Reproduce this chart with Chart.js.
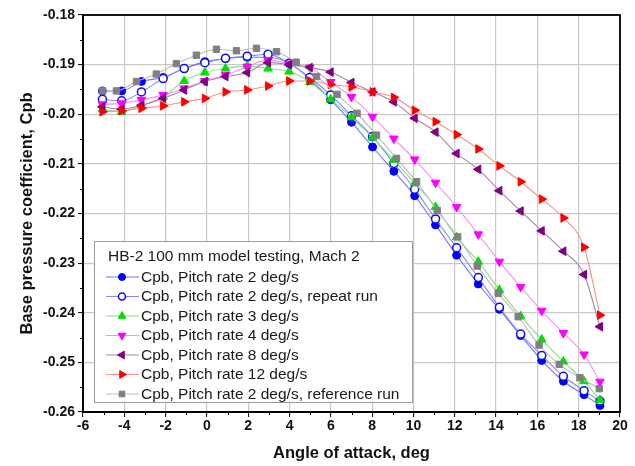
<!DOCTYPE html>
<html>
<head>
<meta charset="utf-8">
<script src="https://cdn.jsdelivr.net/npm/chart.js@4.4.1/dist/chart.umd.min.js"></script>
<style>
  html, body { margin: 0; padding: 0; background: #fff; }
  #wrap { width: 635px; height: 466px; position: relative; }
</style>
</head>
<body>
<div id="wrap"><canvas id="c" width="635" height="466"></canvas></div>
<script>
// Angle of attack (deg) shared by the pitch-rate runs
const angles = [-5.06, -4.13, -3.17, -2.12, -1.10, -0.10, 0.90, 1.95, 2.96, 3.98, 4.98, 5.99, 7.00, 8.02, 9.05, 10.06, 11.07, 12.09, 13.14, 14.16, 15.19, 16.21, 17.26, 18.26, 19.03];
// Angle of attack (deg) for the reference run
const refAngles = [-5.06, -4.38, -3.41, -2.45, -1.48, -0.51, 0.46, 1.43, 2.40, 3.37, 4.32, 5.31, 6.30, 7.27, 8.21, 9.18, 10.15, 11.15, 12.14, 13.09, 14.10, 15.07, 16.08, 17.06, 18.06, 19.00];

const cpbRate2 = [-0.1953, -0.1953, -0.1934, -0.1926, -0.1908, -0.1894, -0.1888, -0.1885, -0.1885, -0.1897, -0.1929, -0.1971, -0.2016, -0.2066, -0.2115, -0.2164, -0.2223, -0.2284, -0.2342, -0.2393, -0.2446, -0.2496, -0.2538, -0.2565, -0.2587];
const cpbRate2Repeat = [-0.1970, -0.1973, -0.1955, -0.1928, -0.1908, -0.1896, -0.1887, -0.1883, -0.1879, -0.1897, -0.1926, -0.1961, -0.2003, -0.2045, -0.2099, -0.2151, -0.2211, -0.2269, -0.2329, -0.2389, -0.2443, -0.2486, -0.2528, -0.2557, -0.2578];
const cpbRate3 = [-0.1990, -0.1995, -0.1982, -0.1965, -0.1933, -0.1916, -0.1908, -0.1903, -0.1908, -0.1914, -0.1935, -0.1970, -0.2006, -0.2047, -0.2092, -0.2139, -0.2187, -0.2248, -0.2297, -0.2354, -0.2407, -0.2454, -0.2498, -0.2538, -0.2576];
const cpbRate4 = [-0.1980, -0.1978, -0.1971, -0.1961, -0.1948, -0.1933, -0.1921, -0.1904, -0.1891, -0.1898, -0.1906, -0.1935, -0.1965, -0.2005, -0.2049, -0.2091, -0.2138, -0.2187, -0.2242, -0.2297, -0.2348, -0.2396, -0.2441, -0.2484, -0.2539];
const cpbRate8 = [-0.1985, -0.1990, -0.1982, -0.1968, -0.1951, -0.1934, -0.1924, -0.1916, -0.1896, -0.1900, -0.1906, -0.1915, -0.1936, -0.1955, -0.1975, -0.2008, -0.2036, -0.2079, -0.2111, -0.2154, -0.2195, -0.2235, -0.2276, -0.2323, -0.2428];
const cpbRate12 = [-0.1995, -0.1993, -0.1988, -0.1983, -0.1975, -0.1968, -0.1955, -0.1951, -0.1943, -0.1933, -0.1933, -0.1940, -0.1945, -0.1955, -0.1966, -0.1992, -0.2015, -0.2041, -0.2070, -0.2104, -0.2136, -0.2171, -0.2209, -0.2268, -0.2405];
const cpbRate2Ref = [-0.1953, -0.1953, -0.1934, -0.1919, -0.1898, -0.1881, -0.1869, -0.1872, -0.1867, -0.1874, -0.1895, -0.1924, -0.1960, -0.1998, -0.2042, -0.2089, -0.2136, -0.2194, -0.2247, -0.2306, -0.2361, -0.2408, -0.2465, -0.2504, -0.2531, -0.2553];

const legendTitle = "HB-2 100 mm model testing, Mach 2";
const seriesLabels = [
  "Cpb, Pitch rate 2 deg/s",
  "Cpb, Pitch rate 2 deg/s, repeat run",
  "Cpb, Pitch rate 3 deg/s",
  "Cpb, Pitch rate 4 deg/s",
  "Cpb, Pitch rate 8 deg/s",
  "Cpb, Pitch rate 12 deg/s",
  "Cpb, Pitch rate 2 deg/s, reference run"
];
const xTitle = "Angle of attack, deg";
const yTitle = "Base pressure coefficient, Cpb";

function pts(xs, ys) { return ys.map((v, i) => ({ x: xs[i], y: v })); }

const styles = [
  { line: '#7676ff', fill: '#0000ff', border: '#0000ff', style: 'circle', rot: 0, r: 4 },
  { line: '#8484ff', fill: '#ffffff', border: '#1010e0', style: 'circle', rot: 0, r: 4 },
  { line: '#86de86', fill: '#00e000', border: '#00e000', style: 'triangle', rot: 0, r: 5 },
  { line: '#f590f5', fill: '#ff00ff', border: '#ff00ff', style: 'triangle', rot: 180, r: 5 },
  { line: '#ad82ad', fill: '#800080', border: '#800080', style: 'triangle', rot: 270, r: 5 },
  { line: '#f59282', fill: '#ff0000', border: '#ff0000', style: 'triangle', rot: 90, r: 5 },
  { line: '#bbbbbb', fill: '#808080', border: '#808080', style: 'rect', rot: 0, r: 4.5 }
];
const dataSets = [
  pts(angles, cpbRate2), pts(angles, cpbRate2Repeat), pts(angles, cpbRate3),
  pts(angles, cpbRate4), pts(angles, cpbRate8), pts(angles, cpbRate12),
  pts(refAngles, cpbRate2Ref)
];

const datasets = dataSets.map((d, i) => ({
  label: seriesLabels[i],
  data: d,
  borderColor: styles[i].line,
  borderWidth: 1.1,
  backgroundColor: styles[i].fill,
  pointStyle: styles[i].style,
  rotation: styles[i].rot,
  pointRadius: styles[i].r,
  pointBackgroundColor: styles[i].fill,
  pointBorderColor: styles[i].border,
  pointBorderWidth: i === 1 ? 1.5 : 1,
  cubicInterpolationMode: 'monotone',
  fill: false,
  order: 6 - i
}));

const FONT = "'Liberation Sans', Arial, sans-serif";

const framePlugin = {
  id: 'frame',
  afterDraw(chart) {
    const { ctx, chartArea: a, scales } = chart;
    const xs = scales.x, ys = scales.y;
    ctx.save();
    ctx.strokeStyle = '#000';
    ctx.lineWidth = 1;
    ctx.beginPath();
    for (let v = -5; v < 20; v += 2) {
      const px = Math.round(xs.getPixelForValue(v)) + 0.5;
      ctx.moveTo(px, a.bottom); ctx.lineTo(px, a.bottom + 3);
    }
    for (let k = 0; k < 8; k++) {
      const v = -0.255 + k * 0.01;
      const py = Math.round(ys.getPixelForValue(v)) + 0.5;
      ctx.moveTo(a.left, py); ctx.lineTo(a.left - 3, py);
    }
    ctx.stroke();
    ctx.lineWidth = 1.8;
    ctx.strokeRect(a.left, a.top, a.right - a.left, a.bottom - a.top);
    ctx.restore();
  }
};

const legendPlugin = {
  id: 'boxLegend',
  afterDatasetsDraw(chart) {
    const ctx = chart.ctx;
    const bx = 94, by = 241, bw = 318, bh = 161;
    ctx.save();
    ctx.fillStyle = '#ffffff';
    ctx.fillRect(bx, by, bw, bh);
    ctx.strokeStyle = '#9a9a9a';
    ctx.lineWidth = 1;
    ctx.strokeRect(bx + 0.5, by + 0.5, bw, bh);
    ctx.fillStyle = '#1a1a1a';
    ctx.font = '15.5px ' + FONT;
    ctx.textBaseline = 'middle';
    ctx.textAlign = 'left';
    ctx.fillText(legendTitle, 108, 257);
    const y0 = 277, dy = 19.5;
    chart.data.datasets.forEach((ds, i) => {
      const y = y0 + i * dy;
      ctx.strokeStyle = ds.borderColor;
      ctx.lineWidth = 1.2;
      ctx.beginPath();
      ctx.moveTo(106, y); ctx.lineTo(139, y);
      ctx.stroke();
      ctx.fillStyle = ds.pointBackgroundColor;
      ctx.strokeStyle = ds.pointBorderColor;
      ctx.lineWidth = ds.pointBorderWidth;
      Chart.helpers.drawPoint(ctx, {
        pointStyle: ds.pointStyle, rotation: ds.rotation,
        radius: ds.pointRadius - 0.5, borderWidth: ds.pointBorderWidth
      }, 122, y);
      ctx.fillStyle = '#1a1a1a';
      ctx.fillText(ds.label, 141, y + 0.5);
    });
    ctx.restore();
  }
};

new Chart(document.getElementById('c'), {
  type: 'line',
  data: { datasets },
  plugins: [legendPlugin, framePlugin],
  options: {
    responsive: false,
    animation: false,
    devicePixelRatio: 1,
    layout: { padding: { left: 0, top: 15, right: 15, bottom: 0 } },
    plugins: { legend: { display: false }, tooltip: { enabled: false }, title: { display: false } },
    scales: {
      x: {
        type: 'linear', min: -6, max: 20,
        afterFit(s) { s.height = 54; },
        ticks: { stepSize: 2, color: '#111', font: { family: FONT, size: 14, weight: 'bold' }, padding: 1, maxRotation: 0, autoSkip: false },
        grid: { color: '#c9c9c9', lineWidth: 1.2, drawTicks: true, tickLength: 5, tickColor: '#000', tickWidth: 1 },
        border: { display: true, color: '#000', width: 1.8 },
        title: { display: true, text: xTitle, color: '#111', font: { family: FONT, size: 16.5, weight: 'bold' }, padding: { top: 4, bottom: 3 } }
      },
      y: {
        type: 'linear', min: -0.26, max: -0.18,
        afterFit(s) { s.width = 83; },
        ticks: { stepSize: 0.01, color: '#111', font: { family: FONT, size: 14, weight: 'bold' }, padding: 3,
          callback: v => v.toFixed(2) },
        grid: { color: '#c9c9c9', lineWidth: 1.2, drawTicks: true, tickLength: 5, tickColor: '#000', tickWidth: 1 },
        border: { display: true, color: '#000', width: 1.8 },
        title: { display: true, text: yTitle, color: '#111', font: { family: FONT, size: 16.5, weight: 'bold' }, padding: { top: 18, bottom: 2 } }
      }
    }
  }
});
</script>
</body>
</html>
